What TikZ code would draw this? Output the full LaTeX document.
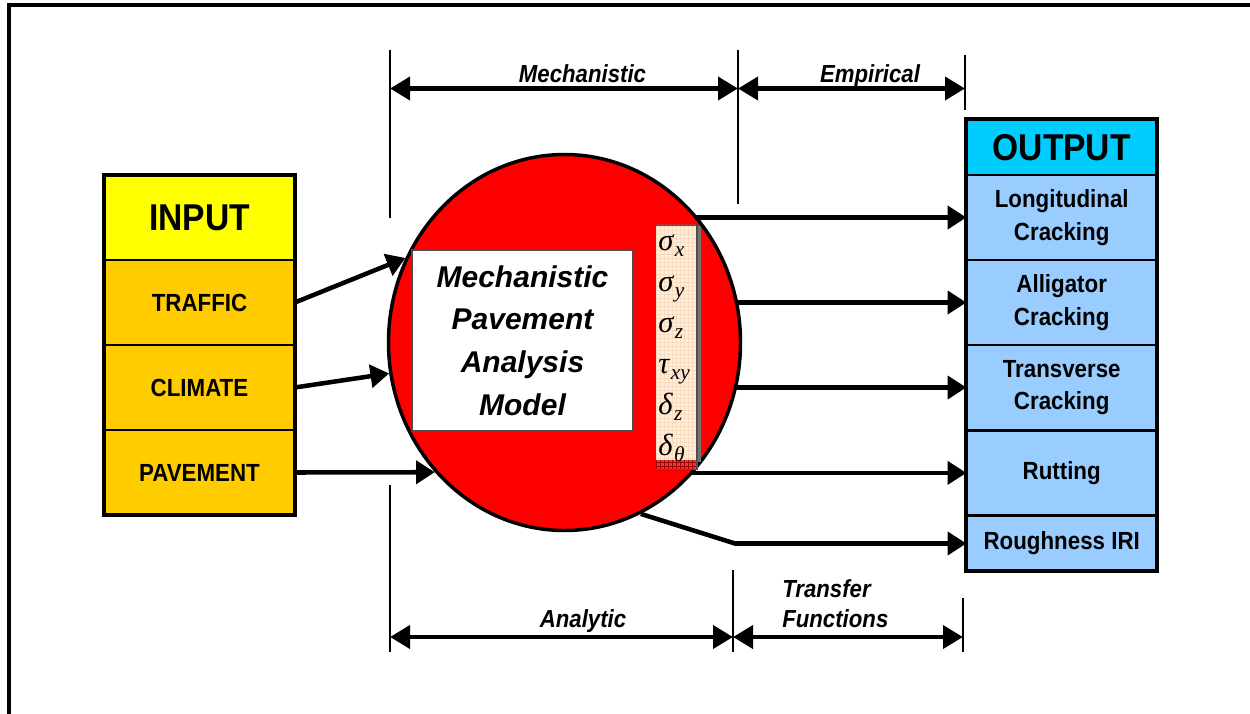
\documentclass[tikz,border=0pt]{standalone}
\usepackage{fontspec}
\setmainfont{Liberation Sans}
\newfontfamily\labfont{Liberation Sans}[FakeStretch=0.9]
\newfontfamily\grkfont{Liberation Serif}
\usetikzlibrary{arrows.meta,shapes.geometric,patterns,backgrounds}
\definecolor{inyel}{HTML}{FFFF00}
\definecolor{inorg}{HTML}{FFCC00}
\definecolor{outcyan}{HTML}{00CCFF}
\definecolor{outblue}{HTML}{99CCFF}
\definecolor{peach}{HTML}{FDEEE0}
\definecolor{gridorange}{HTML}{F8DCC0}
\definecolor{strip}{HTML}{E83A3A}
\tikzset{
  rowbox/.style={draw, line width=2.2pt, outer sep=0pt, inner sep=0pt, minimum width=143pt, align=center,
    font=\labfont\bfseries\fontsize{18.6}{24.5}\selectfont},
  titlebox/.style={rowbox, font=\labfont\bfseries\fontsize{28}{30}\selectfont},
  flow/.style={line width=3.4pt, -{Triangle[length=14pt,width=17pt]}},
  dimarrow/.style={line width=3.6pt, {Triangle[length=15pt,width=17pt]}-{Triangle[length=15pt,width=17pt]}},
  guide/.style={line width=0.9pt},
  dimlabel/.style={font=\labfont\bfseries\itshape\fontsize{18.5}{22.5}\selectfont, inner sep=0pt},
  greek/.style={anchor=base west, inner sep=0pt, font=\grkfont\itshape\fontsize{23}{23}\selectfont},
}
\newcommand{\gsub}[1]{\kern1.2pt\raisebox{-4.5pt}{\fontsize{16}{16}\selectfont #1}}
\begin{document}
\begin{tikzpicture}[x=0.75pt,y=-0.75pt]
\useasboundingbox (0,0) rectangle (1250,714);
% frame
\draw[line width=3pt] (8.7,714) -- (8.7,4.7) -- (1250,4.7);

% input column
\node[titlebox, fill=inyel, minimum height=63.75pt] (inp) at (199.5,217.5) {INPUT};
\node[rowbox, fill=inorg, minimum height=63.75pt] (traffic) at (199.5,302.5) {TRAFFIC};
\node[rowbox, fill=inorg, minimum height=63.75pt] (climate) at (199.5,387.5) {CLIMATE};
\node[rowbox, fill=inorg, minimum height=63.75pt] (pave) at (199.5,472.5) {PAVEMENT};
\draw[line width=3pt] (inp.north west) rectangle (pave.south east);

% output column
\node[titlebox, fill=outcyan, minimum height=41.8pt] (o0) at (1061.7,147.2) {OUTPUT};
\node[rowbox, fill=outblue, minimum height=63.75pt] (o1) at (1061.7,217.5) {Longitudinal\\Cracking};
\node[rowbox, fill=outblue, minimum height=63.75pt] (o2) at (1061.7,302.5) {Alligator\\Cracking};
\node[rowbox, fill=outblue, minimum height=63.75pt] (o3) at (1061.7,387.5) {Transverse\\Cracking};
\node[rowbox, fill=outblue, minimum height=64.3pt] (o4) at (1061.7,472.9) {Rutting};
\node[rowbox, fill=outblue, minimum height=41.7pt] (o5) at (1061.7,543.5) {Roughness IRI};
\draw[line width=3pt] (o0.north west) rectangle (o5.south east);

% circle and model
\node[ellipse, draw, line width=2.6pt, fill=red, inner sep=0pt, minimum width=264pt, minimum height=282pt] (circ) at (564.5,342.5) {};
\node[draw=black!70, line width=0.8pt, fill=white, inner sep=0pt, minimum width=165.75pt, minimum height=135.75pt, align=center,
  font=\bfseries\itshape\fontsize{22.5}{32}\selectfont] (model) at (522.5,340.5) {Mechanistic\\Pavement\\Analysis\\Model};

% stress column
\fill[black!55] (696,226) rectangle (700.5,462);
\node[draw=black!70, line width=0.6pt, fill=peach, postaction={pattern=grid, pattern color=gridorange}, inner sep=0pt,
  minimum width=31.5pt, minimum height=184.5pt] (stress) at (676,346) {};
\fill[strip, postaction={pattern=grid, pattern color=red!60!black}] (655.3,460) rectangle (696.7,469);
\fill[strip!80!black] (655.3,223.3) rectangle (696.7,226);
\draw[black!70, line width=0.6pt] (655.3,223.3) rectangle (696.7,469);
\node[greek] (sx) at (658,250) {σ\gsub{x}};
\node[greek] (sy) at (658,291) {σ\gsub{y}};
\node[greek] (sz) at (658,332) {σ\gsub{z}};
\node[greek] (txy) at (658,373) {τ\gsub{xy}};
\node[greek] (dz) at (658,414) {δ\gsub{z}};
\node[greek] (dth) at (658,455) {δ\gsub{θ}};

% input arrows
\draw[flow] (traffic.east) -- (circ.152);
\draw[flow] (climate.east) -- (circ.190);
\draw[flow] (pave.east) -- (circ.225);

% output arrows (start hidden behind the circle)
\coordinate (rbend) at (735,0);
\begin{scope}[on background layer]
\draw[flow] (circ.center |- o1.west) -- (o1.west);
\draw[flow] (circ.center |- o2.west) -- (o2.west);
\draw[flow] (circ.center |- o3.west) -- (o3.west);
\draw[flow] (circ.center |- o4.west) -- (o4.west);
\end{scope}
\draw[flow] (circ.294) -- (rbend |- o5.west) -- (o5.west);

% dimension guides
\draw[guide] (390,50) -- (390,218);
\draw[guide] (390,485) -- (390,652);
\draw[guide] (738,50) -- (738,204);
\draw[guide] (965,55) -- (965,110);
\draw[guide] (733,570) -- (733,652);
\draw[guide] (963,598) -- (963,652);

% dimension arrows
\coordinate (tL) at (390,88.5);
\coordinate (tM) at (738,88.5);
\coordinate (tR) at (965,88.5);
\coordinate (bL) at (390,637);
\coordinate (bM) at (733,637);
\coordinate (bR) at (963,637);
\draw[dimarrow] (tL) -- (tM);
\draw[dimarrow] (tM) -- (tR);
\draw[dimarrow] (bL) -- (bM);
\draw[dimarrow] (bM) -- (bR);

\node[dimlabel, anchor=base] (lmech) at (582.5,82) {Mechanistic};
\node[dimlabel, anchor=base] (lemp) at (870,82) {Empirical};
\node[dimlabel, anchor=base] (lana) at (583,627) {Analytic};
\node[dimlabel, anchor=base west] (ltrans) at (782,627) {Functions};
\node[dimlabel, anchor=base west] (ltrans2) at (782,597) {Transfer};
\end{tikzpicture}
\end{document}
